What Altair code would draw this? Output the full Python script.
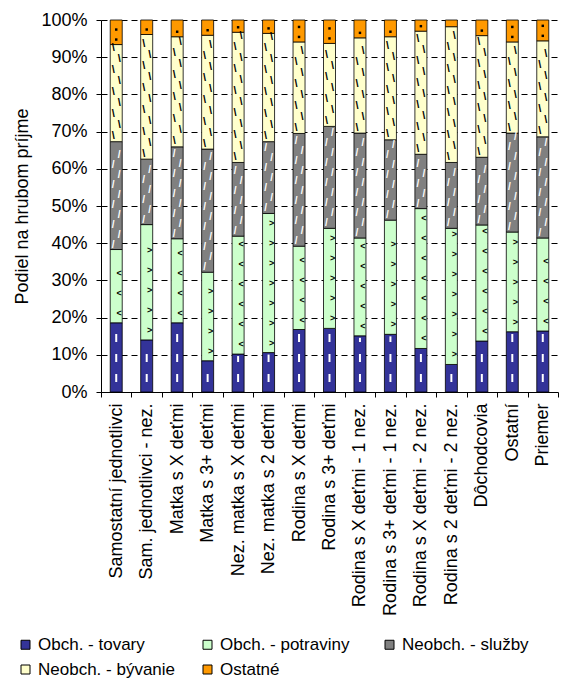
import altair as alt
import pandas as pd

# Household types (x axis)
categories = [
    "Samostatní jednotlivci",
    "Sam. jednotlivci - nez.",
    "Matka s X deťmi",
    "Matka s 3+ deťmi",
    "Nez. matka s X deťmi",
    "Nez. matka s 2 deťmi",
    "Rodina s X deťmi",
    "Rodina s 3+ deťmi",
    "Rodina s X deťmi - 1 nez.",
    "Rodina s 3+ deťmi - 1 nez.",
    "Rodina s X deťmi - 2 nez.",
    "Rodina s 2 deťmi - 2 nez.",
    "Dôchodcovia",
    "Ostatní",
    "Priemer",
]

# Expenditure groups (stacked bottom to top)
series = [
    "Obch. - tovary",
    "Obch. - potraviny",
    "Neobch. - služby",
    "Neobch. - bývanie",
    "Ostatné",
]
colors = ["#333399", "#CCFFCC", "#808080", "#FFFFCC", "#FF9900"]

# Share of gross income, % per household type
tovary = [18.6, 14.0, 18.6, 8.4, 10.2, 10.6, 16.8, 17.1, 15.1, 15.5, 11.7, 7.4, 13.7, 16.2, 16.4]
potraviny = [19.7, 31.0, 22.6, 23.8, 31.7, 37.4, 22.4, 26.9, 26.3, 30.7, 37.6, 36.6, 31.2, 26.8, 25.0]
sluzby = [29.0, 17.6, 24.7, 33.1, 19.8, 19.3, 30.3, 27.4, 28.2, 21.6, 14.6, 17.7, 18.2, 26.6, 27.2]
byvanie = [26.1, 33.5, 29.6, 30.6, 35.0, 29.1, 24.6, 22.3, 25.6, 27.7, 33.1, 36.5, 32.7, 24.5, 25.8]
ostatne = [6.6, 3.9, 4.5, 4.1, 3.3, 3.6, 5.9, 6.3, 4.8, 4.5, 3.0, 1.8, 4.2, 5.9, 5.6]

PLOT_W, PLOT_H = 457, 372
FONT = "Liberation Sans"

# Segment table: lower / upper edge of each stacked piece as a share of the total
rows = []
for i, cat in enumerate(categories):
    parts = [tovary[i], potraviny[i], sluzby[i], byvanie[i], ostatne[i]]
    total = sum(parts)
    base = 0.0
    for k, name in enumerate(series):
        rows.append(dict(cat=cat, idx=i, series=name, order=k,
                         lo=base / total, hi=(base + parts[k]) / total))
        base += parts[k]
seg = pd.DataFrame(rows)

# Fill textures: repeated small glyphs inside each segment (pitch in pixels, columns)
texture = {
    "Obch. - tovary": (20, 1),
    "Obch. - potraviny": (20, 1),
    "Neobch. - služby": (10, 2),
    "Neobch. - bývanie": (11, 2),
    "Ostatné": (10, 1),
}
tiles = []
for r in seg.itertuples():
    pitch, ncols = texture[r.series]
    step = pitch / PLOT_H
    pos = r.lo + step * 0.5
    k = 0
    while pos < r.hi - step * 0.3:
        tiles.append(dict(cat=r.cat, series=r.series, pos=pos,
                          pos2=min(pos + 8 / PLOT_H, r.hi - 2 / PLOT_H),
                          side=k % ncols,
                          glyph="<" if r.idx % 2 == 0 else ">"))
        pos += step
        k += 1
tiles = pd.DataFrame(tiles)

yscale = alt.Scale(domain=[0, 1], nice=False)
xscale = alt.Scale(paddingInner=0, paddingOuter=0)
ytitle = "Podiel na hrubom príjme"
yaxis = alt.Axis(format="%", values=[i / 10 for i in range(11)], grid=True,
                 gridColor="#000000", gridDash=[6, 4], gridWidth=1,
                 tickSize=5, tickColor="#000000", domainColor="#000000",
                 labelPadding=9, titlePadding=9)
xaxis = alt.Axis(labelAngle=-90, tickBand="extent", tickSize=5,
                 tickColor="#000000", domainColor="#000000", grid=False,
                 labelPadding=6, labelLimit=300)

X = alt.X("cat:N", sort=categories, scale=xscale, axis=xaxis, title=None)
YP = alt.Y("pos:Q", scale=yscale, axis=yaxis, title=ytitle)

bars = alt.Chart(seg).mark_bar(size=12, stroke="#000000", strokeWidth=0.8).encode(
    x=X,
    y=alt.Y("lo:Q", scale=yscale, axis=yaxis, title=ytitle),
    y2="hi:Q",
    color=alt.Color("series:N", scale=alt.Scale(domain=series, range=colors),
                    legend=alt.Legend(title=None, orient="none", legendX=-84,
                                      legendY=616, columns=3, columnPadding=23,
                                      direction="horizontal", gridAlign="all",
                                      rowPadding=7, symbolType="square",
                                      symbolSize=81, symbolStrokeColor="#000000",
                                      symbolStrokeWidth=1, labelFontSize=17,
                                      labelOffset=4, labelFont=FONT,
                                      labelColor="#000000")),
    order=alt.Order("order:Q"),
)

# white vertical dashes in the goods segment
dash = alt.Chart(tiles[tiles.series == series[0]]).mark_rule(
    color="#FFFFFF", strokeWidth=2).encode(x=X, y=YP, y2="pos2:Q")

layers = [bars, dash]

# black chevrons in the food segment
layers.append(alt.Chart(tiles[tiles.series == series[1]]).mark_text(
    color="#000000", fontSize=9, fontWeight="bold", font=FONT, xOffset=3).encode(
    x=X, y=YP, text="glyph:N"))

# white slashes in the services segment, alternating sides
for side, off in [(0, -3), (1, 3)]:
    sub = tiles[(tiles.series == series[2]) & (tiles.side == side)]
    layers.append(alt.Chart(sub).mark_text(
        text="/", color="#FFFFFF", fontSize=10, fontWeight="bold",
        font=FONT, xOffset=off).encode(x=X, y=YP))

# black backslashes in the housing segment, alternating sides
for side, off in [(0, -3), (1, 3)]:
    sub = tiles[(tiles.series == series[3]) & (tiles.side == side)]
    layers.append(alt.Chart(sub).mark_text(
        text="\\", color="#000000", fontSize=11, fontWeight="bold",
        font=FONT, xOffset=off).encode(x=X, y=YP))

# black dots in the other segment
layers.append(alt.Chart(tiles[tiles.series == series[4]]).mark_square(
    size=6, color="#000000", opacity=1).encode(x=X, y=YP))

chart = alt.layer(*layers).properties(
    width=PLOT_W,
    height=PLOT_H,
    autosize=alt.AutoSizeParams(type="none"),
    padding={"left": 101, "top": 20, "right": 6, "bottom": 287},
    background="#FFFFFF",
).configure_view(stroke=None).configure_axis(
    labelFont=FONT, labelFontSize=18, labelColor="#000000",
    titleFont=FONT, titleFontSize=18, titleFontWeight="normal",
    titleColor="#000000",
)

chart.save("out.html", embed_options={"renderer": "svg", "actions": False})
